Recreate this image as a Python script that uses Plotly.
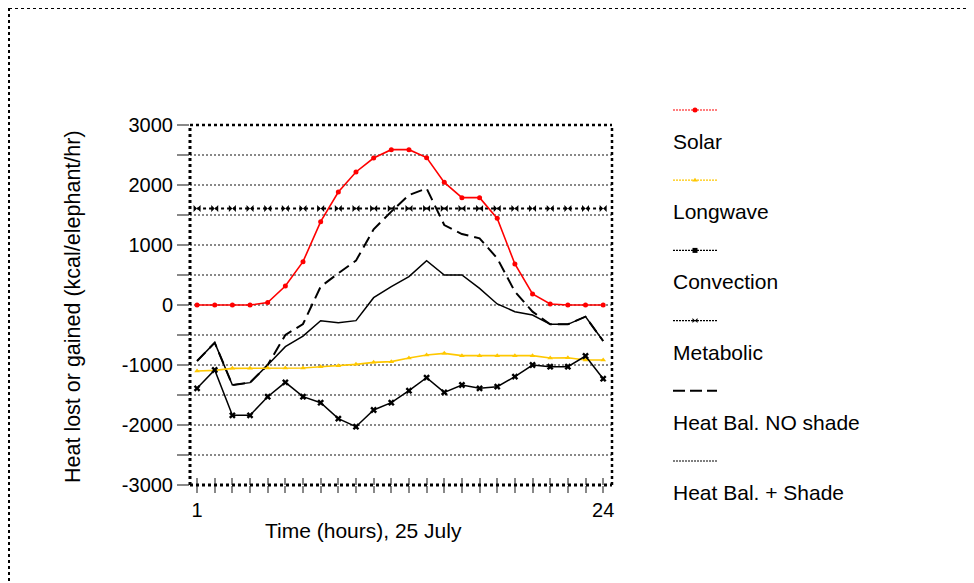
import plotly.graph_objects as go

hours = list(range(1, 25))
solar = [0, 0, 0, 0, 40, 317, 722, 1389, 1883, 2217, 2450, 2589,
         2589, 2456, 2044, 1789, 1789, 1444, 683, 183, 17, 0, 0, 0]
longwave = [-1100, -1089, -1056, -1056, -1050, -1050, -1050, -1028, -1011, -989, -956, -944,
            -883, -833, -806, -844, -844, -844, -844, -844, -883, -878, -917, -917]
convection = [-1389, -1083, -1839, -1839, -1528, -1289, -1528, -1628, -1894, -2028, -1750, -1628,
              -1428, -1211, -1456, -1333, -1389, -1361, -1194, -1000, -1028, -1028, -850, -1228]
metabolic = [1610] * 24
bal_no_shade = [-933, -628, -1333, -1294, -1000, -500, -317, 306, 528, 739, 1261, 1556,
                1833, 1944, 1333, 1183, 1111, 778, 222, -111, -322, -322, -194, -600]
bal_shade = [-933, -628, -1333, -1294, -1000, -694, -517, -261, -294, -261, 122, 306,
             472, 739, 500, 500, 278, 17, -111, -167, -322, -322, -194, -600]

legend_names = ["Solar", "Longwave", "Convection", "Metabolic", "Heat Bal. NO shade", "Heat Bal. + Shade"]
y_ticks = [3000, 2000, 1000, 0, -1000, -2000, -3000]
y_labels = ["3000", "2000", "1000", "0", "-1000", "-2000", "-3000"]
x_labels = {1: "1", 24: "24"}
x_title = "Time (hours), 25 July"
y_title = "Heat lost or gained (kcal/elephant/hr)"

FONT = "Liberation Sans, Arial, sans-serif"
RED = "#ff0000"
GOLD = "#ffc800"
GRID = "#888888"
GDASH = "2px,2px"

# page layout (page px; the page body has an 8px margin)
OFF = 8
W, H = 974 - OFF, 583 - OFF
PL, PR, PT, PB = 190, 960, 95, 530          # paper box in page px
L, T = PL - OFF, PT - OFF
R, B = W - (PR - OFF), H - (PB - OFF)
pw, ph = PR - PL, PB - PT
px = lambda x: (x - PL) / pw
py = lambda y: (PB - y) / ph

styles = [
    dict(line=dict(color=RED, width=1.6), marker=dict(symbol="circle", size=5, color=RED)),
    dict(line=dict(color=GOLD, width=1.6), marker=dict(symbol="triangle-up", size=5, color=GOLD)),
    dict(line=dict(color="black", width=1.5), marker=dict(symbol="x", size=6, color="black")),
    dict(line=dict(color="black", width=2, dash="dot"), marker=dict(symbol="bowtie", size=7, color="black")),
    dict(line=dict(color="black", width=2, dash="12px,6px"), marker=dict(size=1)),
    dict(line=dict(color="black", width=1.5), marker=dict(size=1)),
]
series = [solar, longwave, convection, metabolic, bal_no_shade, bal_shade]
modes = ["lines+markers"] * 4 + ["lines"] * 2

fig = go.Figure()
for i in [4, 5, 3, 1, 0, 2]:
    fig.add_trace(go.Scatter(x=hours, y=series[i], mode=modes[i], name=legend_names[i],
                             line=styles[i]["line"], marker=styles[i]["marker"],
                             showlegend=False, xaxis="x", yaxis="y"))
fig.add_trace(go.Scatter(x=[1], y=[0], xaxis="x3", yaxis="y", mode="markers",
                         marker=dict(opacity=0), showlegend=False, hoverinfo="skip"))

# custom legend: sample line above, text below
leg_symbols = ["circle", "triangle-up", "square", "bowtie", None, None]
leg_colors = [RED, GOLD, "black", "black", "black", "black"]
for i, name in enumerate(legend_names):
    if i == 4:
        ln = dict(color="black", width=2, dash="12px,5px")
    else:
        ln = dict(color=leg_colors[i], width=1.2, dash="2px,1px")
    fig.add_trace(go.Scatter(x=[0, 1], y=[i, i], mode="lines", line=ln, showlegend=False,
                             hoverinfo="skip", xaxis="x2", yaxis="y2"))
    if leg_symbols[i]:
        fig.add_trace(go.Scatter(x=[0.5], y=[i], mode="markers",
                                 marker=dict(symbol=leg_symbols[i], size=5, color=leg_colors[i]),
                                 showlegend=False, hoverinfo="skip", xaxis="x2", yaxis="y2"))
    fig.add_annotation(x=0, y=i + 0.45, xref="x2", yref="y2", text=name, showarrow=False,
                       xanchor="left", yanchor="middle", xshift=-2,
                       font=dict(family=FONT, size=21, color="black"))

# axis titles
fig.add_annotation(x=px(363), y=py(530), xref="paper", yref="paper", text=x_title, showarrow=False,
                   xanchor="center", yanchor="middle", font=dict(family=FONT, size=21, color="black"))
fig.add_annotation(x=px(73), y=py(307), xref="paper", yref="paper", text=y_title, showarrow=False,
                   textangle=-90, xanchor="center", yanchor="middle",
                   font=dict(family=FONT, size=21.5, color="black"))

row0, rowh = 110, 70.2
fig.update_layout(
    width=W, height=H,
    margin=dict(l=L, r=R, t=T, b=B, autoexpand=False),
    paper_bgcolor="white", plot_bgcolor="white",
    font=dict(family=FONT, size=20, color="black"),
    showlegend=False,
    xaxis=dict(domain=[0, px(612)], range=[0.6, 24.5], tickmode="array",
               tickvals=hours, ticktext=[x_labels.get(h, "") for h in hours],
               ticks="outside", ticklen=7, tickwidth=1.5, tickcolor=GRID,
               showgrid=False, zeroline=False, showline=False, tickfont=dict(size=20),
               anchor="y"),
    xaxis3=dict(overlaying="x", range=[0.6, 24.5], tickmode="array", tickvals=hours,
                showticklabels=False, ticks="inside", ticklen=7, tickwidth=1.5,
                tickcolor=GRID, showgrid=False, zeroline=False, showline=False,
                anchor="y", side="bottom"),
    yaxis=dict(domain=[py(485), py(125)], range=[-3000, 3000], tickmode="array",
               tickvals=y_ticks, ticktext=y_labels,
               ticks="outside", ticklen=12, tickwidth=2, tickcolor=GRID,
               showgrid=True, gridcolor=GRID, gridwidth=2, griddash=GDASH,
               zeroline=False, showline=False,
               minor=dict(dtick=500, showgrid=True, gridcolor=GRID, gridwidth=2,
                          griddash=GDASH, ticks="outside", ticklen=12, tickcolor=GRID, tickwidth=2),
               tickfont=dict(size=20), anchor="x"),
    xaxis2=dict(domain=[px(673), px(717)], range=[0, 1], visible=False, anchor="y2"),
    yaxis2=dict(domain=[0, 1], range=[(PB - row0) / rowh, (PT - row0) / rowh], visible=False,
                anchor="x2"),
)

# plot frame (dotted)
for (x0, y0, x1, y1, w) in [(0, 0, 0, 1, 3), (0, 0, 1, 0, 3), (0, 1, 1, 1, 2.5), (1, 0, 1, 1, 2.5)]:
    fig.add_shape(type="line", xref="x domain", yref="y domain", x0=x0, y0=y0, x1=x1, y1=y1,
                  line=dict(color="black", width=w, dash="dot"))
# outer dotted border (top and left)
fig.add_shape(type="line", xref="paper", yref="paper", x0=px(9), x1=px(1000),
              y0=py(8), y1=py(8), line=dict(color="black", width=2, dash="dot"))
fig.add_shape(type="line", xref="paper", yref="paper", x0=px(9), x1=px(9),
              y0=py(8), y1=py(600), line=dict(color="black", width=2, dash="dot"))

fig.write_html("out.html")
